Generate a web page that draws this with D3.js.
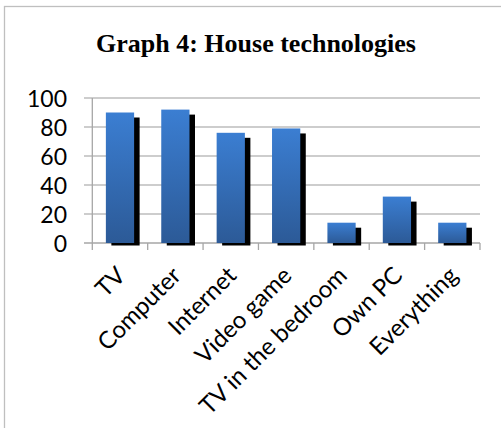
<!DOCTYPE html>
<html>
<head>
<meta charset="utf-8">
<script src="https://cdn.jsdelivr.net/npm/d3@7"></script>
<style>
  body { margin: 0; background: #fff; }
</style>
</head>
<body>
<script>
const categories = ["TV", "Computer", "Internet", "Video game", "TV in the bedroom", "Own PC", "Everything"];
const values = [90, 92, 76, 79, 14, 32, 14];
const yTicks = [0, 20, 40, 60, 80, 100];
const title = "Graph 4: House technologies";

const width = 501, height = 428;

const svg = d3
  .select("body")
  .append("svg")
  .attr("width", width)
  .attr("height", height);

// outer chart frame (right and bottom edges fall outside the window)
svg.append("rect")
  .attr("x", 4.5)
  .attr("y", 6.5)
  .attr("width", 600)
  .attr("height", 600)
  .attr("fill", "none")
  .attr("stroke", "#bfbfbf")
  .attr("stroke-width", 1.3);

svg.append("text")
  .attr("x", 256)
  .attr("y", 51.5)
  .attr("text-anchor", "middle")
  .style("font-family", "'Liberation Serif', 'Times New Roman', serif")
  .style("font-weight", "bold")
  .style("font-size", "26px")
  .attr("fill", "#000")
  .text(title);

const plot = { left: 92.3, right: 480, top: 98, bottom: 243 };

const x = d3.scaleBand()
  .domain(categories)
  .range([plot.left, plot.right])
  .paddingInner(0.49)
  .paddingOuter(0.245);

const band = d3.scaleBand().domain(categories).range([plot.left, plot.right]);

const y = d3.scaleLinear()
  .domain([0, 100])
  .range([plot.bottom, plot.top]);

const defs = svg.append("defs");
const grad = defs.append("linearGradient")
  .attr("id", "barGrad")
  .attr("x1", 0).attr("y1", 0)
  .attr("x2", 0).attr("y2", 1);
grad.append("stop").attr("offset", "0%").attr("stop-color", "#3b7ed2");
grad.append("stop").attr("offset", "100%").attr("stop-color", "#2c5a97");

// gridlines
svg.append("g")
  .selectAll("line")
  .data(yTicks)
  .enter()
  .append("line")
  .attr("x1", 84)
  .attr("x2", plot.right)
  .attr("y1", (d) => y(d))
  .attr("y2", (d) => y(d))
  .attr("stroke", (d) => (d === 0 ? "#a6a6a6" : "#bdbdbd"))
  .attr("stroke-width", 1.5);

// y axis line
svg.append("line")
  .attr("x1", plot.left)
  .attr("x2", plot.left)
  .attr("y1", plot.top)
  .attr("y2", plot.bottom + 7)
  .attr("stroke", "#a6a6a6")
  .attr("stroke-width", 1.3);

// category tick marks
svg.append("g")
  .selectAll("line")
  .data(categories.slice(1).concat(["end"]))
  .enter()
  .append("line")
  .attr("x1", (d, i) => band.bandwidth() * (i + 1) + plot.left)
  .attr("x2", (d, i) => band.bandwidth() * (i + 1) + plot.left)
  .attr("y1", plot.bottom)
  .attr("y2", plot.bottom + 7)
  .attr("stroke", "#a6a6a6")
  .attr("stroke-width", 1.3);

// y tick labels
svg.append("g")
  .selectAll("text")
  .data(yTicks)
  .enter()
  .append("text")
  .attr("x", 67)
  .attr("y", (d) => y(d) + 8.5)
  .attr("text-anchor", "end")
  .style("font-family", "Lato, 'Open Sans', sans-serif")
  .style("font-size", "23px")
  .attr("fill", "#000")
  .text((d) => d);

const barData = categories.map((c, i) => ({ cat: c, value: values[i] }));

// shadows
svg.append("g")
  .selectAll("rect")
  .data(barData)
  .enter()
  .append("rect")
  .attr("x", (d) => x(d.cat) + 5.5)
  .attr("y", (d) => y(d.value) + 5)
  .attr("width", x.bandwidth())
  .attr("height", (d) => y(0) + 2.5 - (y(d.value) + 5))
  .attr("fill", "#000");

// bars
svg.append("g")
  .selectAll("rect")
  .data(barData)
  .enter()
  .append("rect")
  .attr("x", (d) => x(d.cat))
  .attr("y", (d) => y(d.value))
  .attr("width", x.bandwidth())
  .attr("height", (d) => y(0) - y(d.value))
  .attr("fill", "url(#barGrad)");

// rotated category labels
svg.append("g")
  .selectAll("text")
  .data(categories)
  .enter()
  .append("text")
  .attr("text-anchor", "end")
  .attr("transform", (d) => {
    const cx = band(d) + band.bandwidth() / 2 + 7;
    return `translate(${cx},${277}) rotate(-45)`;
  })
  .style("font-family", "Lato, 'Open Sans', sans-serif")
  .style("font-size", "24px")
  .attr("fill", "#000")
  .text((d) => d);
</script>
</body>
</html>
